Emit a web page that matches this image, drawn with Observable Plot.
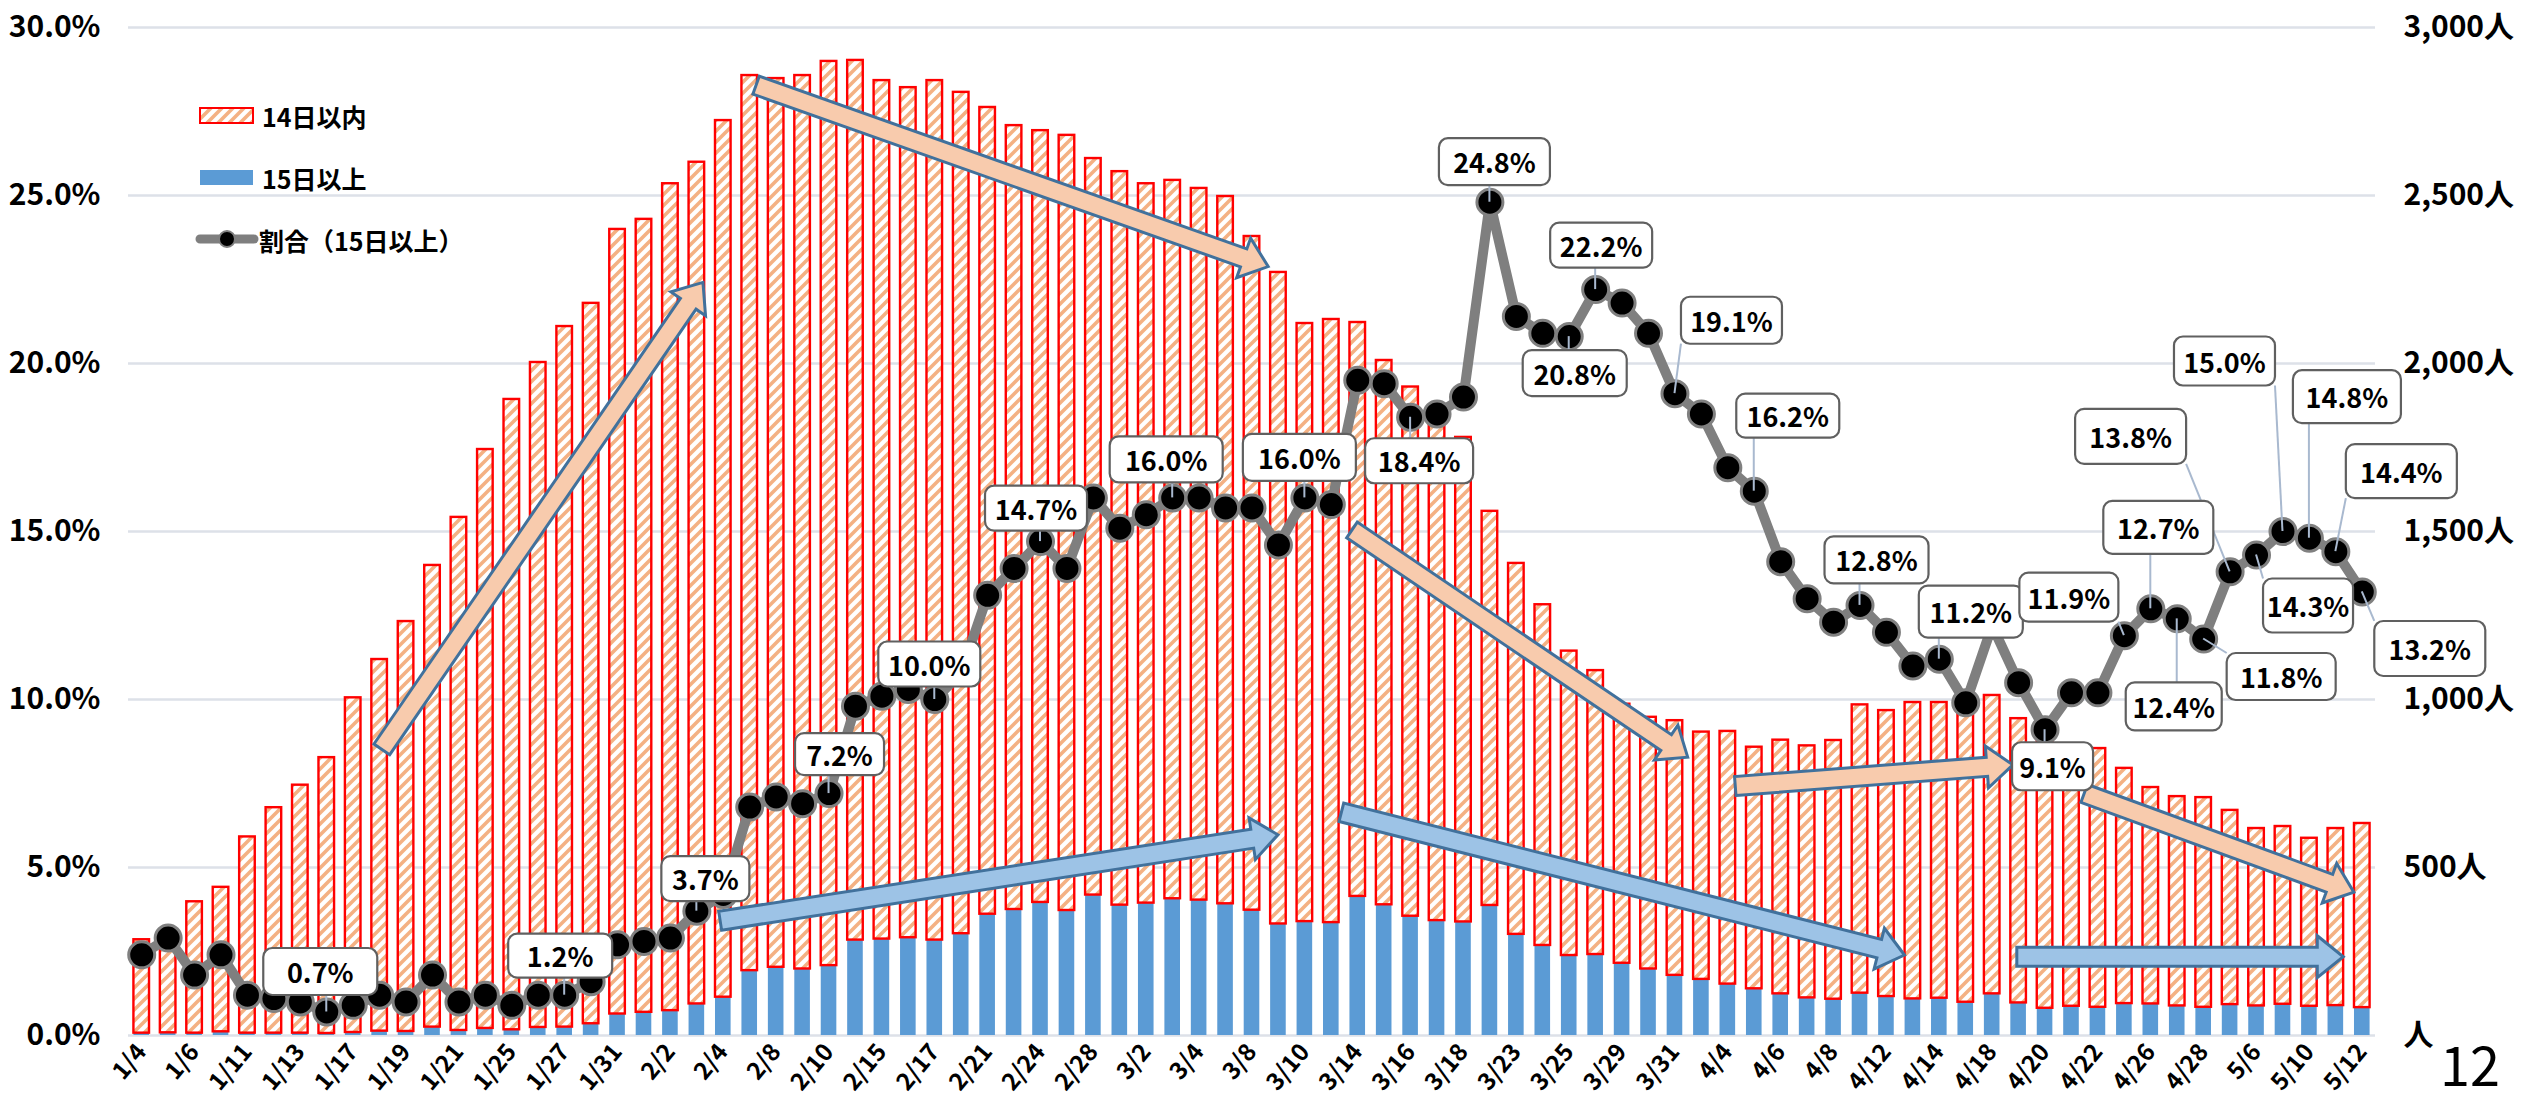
<!DOCTYPE html>
<html><head><meta charset="utf-8">
<script src="https://cdn.jsdelivr.net/npm/d3@7"></script>
<script src="https://cdn.jsdelivr.net/npm/@observablehq/plot@0.6"></script>
<style>
html,body{margin:0;padding:0;background:#fff;}
#chart{width:2532px;height:1100px;}
</style></head><body><div id="chart"></div>
<script>
// ---- data ----
const dates = ["1/4","1/5","1/6","1/8","1/11","1/12","1/13","1/15","1/17","1/18",
"1/19","1/20","1/21","1/22","1/25","1/26","1/27","1/29","1/31","2/1",
"2/2","2/3","2/4","2/5","2/8","2/9","2/10","2/12","2/15","2/16",
"2/17","2/19","2/21","2/22","2/24","2/26","2/28","3/1","3/2","3/3",
"3/4","3/5","3/8","3/9","3/10","3/12","3/14","3/15","3/16","3/17",
"3/18","3/19","3/23","3/24","3/25","3/26","3/29","3/30","3/31","4/2",
"4/4","4/5","4/6","4/7","4/8","4/9","4/12","4/13","4/14","4/16",
"4/18","4/19","4/20","4/21","4/22","4/23","4/26","4/27","4/28","4/30",
"5/6","5/7","5/10","5/11","5/12"];
const tickDates = ["1/4","1/6","1/11","1/13","1/17","1/19","1/21","1/25","1/27","1/31","2/2","2/4","2/8","2/10","2/15","2/17","2/21","2/24","2/28","3/2","3/4","3/8","3/10","3/14","3/16","3/18","3/23","3/25","3/29","3/31","4/4","4/6","4/8","4/12","4/14","4/18","4/20","4/22","4/26","4/28","5/6","5/10","5/12"];
const within14 = [278,282,391,430,584,671,738,821,996,1106,
1220,1374,1527,1723,1876,1979,2085,2144,2335,2360,
2461,2505,2609,2664,2645,2659,2691,2618,2555,2530,
2558,2504,2401,2333,2297,2307,2192,2183,2141,2138,
2118,2105,2005,1939,1780,1795,1708,1620,1575,1508,
1442,1173,1104,1014,906,845,771,749,758,736,
752,719,755,750,770,858,851,882,880,903,
888,846,809,762,770,700,644,623,624,578,
528,529,500,527,548];
const over15 = [7,8,7,11,7,7,7,6,9,13,
12,25,15,21,17,24,25,35,64,69,
74,94,114,193,203,198,208,284,287,291,
284,303,361,375,396,372,418,388,394,407,
403,392,373,332,339,336,414,389,355,342,
338,387,301,268,238,241,215,198,179,167,
153,139,124,112,108,126,116,109,111,99,
124,97,81,87,84,95,94,88,84,92,
88,93,87,89,83];
const ratio = [2.4,2.9,1.8,2.4,1.2,1.1,1.0,0.7,0.9,1.2,
1.0,1.8,1.0,1.2,0.9,1.2,1.2,1.6,2.7,2.8,
2.9,3.7,4.2,6.8,7.1,6.9,7.2,9.8,10.1,10.3,
10.0,10.8,13.1,13.9,14.7,13.9,16.0,15.1,15.5,16.0,
16.0,15.7,15.7,14.6,16.0,15.8,19.5,19.4,18.4,18.5,
19.0,24.8,21.4,20.9,20.8,22.2,21.8,20.9,19.1,18.5,
16.9,16.2,14.1,13.0,12.3,12.8,12.0,11.0,11.2,9.9,
12.2,10.5,9.1,10.2,10.2,11.9,12.7,12.4,11.8,13.8,
14.3,15.0,14.8,14.4,13.2];
const yTicks = [0,500,1000,1500,2000,2500,3000];
const seriesNames = ["14日以内","15日以上","割合（15日以上）"];
const pageNumber = "12";

// ---- layout (not data) ----
const labelBoxes = [
 {i:7,dx:-6,dy:-40,w:114,h:47},{i:16,dx:-4,dy:-39,w:104,h:44},{i:21,dx:9,dy:-32,w:88,h:45},
 {i:26,dx:11,dy:-39,w:89,h:42},{i:30,dx:-5,dy:-35,w:102,h:45},{i:34,dx:-4,dy:-33,w:102,h:45},
 {i:39,dx:-6,dy:-38,w:113,h:46},{i:44,dx:-5,dy:-40,w:113,h:47},{i:48,dx:9,dy:44,w:108,h:45},
 {i:51,dx:5,dy:-40,w:111,h:47},{i:54,dx:6,dy:37,w:104,h:46},{i:55,dx:6,dy:-44,w:102,h:45},
 {i:58,dx:57,dy:-73,w:101,h:47},{i:61,dx:34,dy:-75,w:103,h:44},{i:65,dx:17,dy:-45,w:104,h:47},
 {i:68,dx:32,dy:-47,w:104,h:52},{i:72,dx:8,dy:37,w:81,h:48},{i:75,dx:-55,dy:-38,w:99,h:49},
 {i:76,dx:8,dy:-81,w:110,h:53},{i:77,dx:-3,dy:88,w:96,h:48},{i:78,dx:78,dy:38,w:109,h:47},
 {i:79,dx:-99,dy:-135,w:111,h:55},{i:80,dx:52,dy:51,w:90,h:54},{i:81,dx:-58,dy:-170,w:101,h:49},
 {i:82,dx:38,dy:-141,w:108,h:53},{i:83,dx:66,dy:-80,w:111,h:54},{i:84,dx:68,dy:57,w:111,h:55}
];
const arrows = [
 {from:[9.1,850],to:[21.25,2240],kind:"peach"},
 {from:[23.26,2827],to:[42.63,2287],kind:"peach"},
 {from:[45.8,1503],to:[58.5,827],kind:"peach"},
 {from:[60.3,741],to:[70.8,804],kind:"peach"},
 {from:[73.5,719],to:[83.7,425],kind:"peach"},
 {from:[21.9,340],to:[43.0,596],kind:"blue"},
 {from:[45.4,663],to:[66.7,238],kind:"blue"},
 {from:[70.95,233],to:[83.3,233],kind:"blue"}
];

const data = dates.map((date,i)=>({date, over15: over15[i], within14: within14[i], total: over15[i]+within14[i], pct: ratio[i]*100}));
const FONT = "'Noto Sans CJK JP','Noto Sans',sans-serif";

function bandCenter(scales, fi){
  const i0 = Math.max(0, Math.min(dates.length-1, Math.floor(fi)));
  const f = fi - i0;
  return scales.x(dates[i0]) + scales.x.bandwidth()/2 + f*scales.x.step();
}

function defsMark(){
  const g = d3.create("svg:g");
  const p = g.append("defs").append("pattern").attr("id","hatch")
    .attr("patternUnits","userSpaceOnUse").attr("width",11).attr("height",11);
  p.append("rect").attr("width",11).attr("height",11).attr("fill","#fff");
  p.append("path").attr("d","M-3,3 L3,-3 M0,11 L11,0 M8,14 L14,8")
    .attr("stroke","#f4b183").attr("stroke-width",3.6);
  return g.node();
}

function arrowsMark(index, scales){
  const g = d3.create("svg:g");
  for (const a of arrows){
    const x0 = bandCenter(scales,a.from[0]), y0 = scales.y(a.from[1]);
    const x1 = bandCenter(scales,a.to[0]), y1 = scales.y(a.to[1]);
    const L = Math.hypot(x1-x0,y1-y0), ux=(x1-x0)/L, uy=(y1-y0)/L, nx=-uy, ny=ux;
    const sw=9.5, hw=21, hl=26;
    const bx=x1-ux*hl, by=y1-uy*hl;
    const pts=[[x0+nx*sw,y0+ny*sw],[bx+nx*sw,by+ny*sw],[bx+nx*hw,by+ny*hw],[x1,y1],
      [bx-nx*hw,by-ny*hw],[bx-nx*sw,by-ny*sw],[x0-nx*sw,y0-ny*sw]];
    g.append("polygon").attr("points",pts.map(p=>p.join(",")).join(" "))
      .attr("fill",a.kind==="peach"?"#f8cbad":"#9dc3e6")
      .attr("stroke","#41719c").attr("stroke-width",3).attr("stroke-linejoin","miter");
  }
  return g.node();
}

function labelsMark(index, scales){
  const g = d3.create("svg:g");
  const pos = labelBoxes.map(b=>{
    const px = bandCenter(scales,b.i), py = scales.y(ratio[b.i]*100);
    const cx = px+b.dx, cy = py+b.dy;
    return {b,px,py,cx,cy,x0:cx-b.w/2,y0:cy-b.h/2};
  });
  for (const p of pos){
    const qx = Math.max(p.x0, Math.min(p.px, p.x0+p.b.w));
    const qy = Math.max(p.y0, Math.min(p.py, p.y0+p.b.h));
    g.append("line").attr("x1",p.px).attr("y1",p.py).attr("x2",qx).attr("y2",qy)
      .attr("stroke","#a9b9cf").attr("stroke-width",2);
  }
  for (const p of pos){
    g.append("rect").attr("x",p.x0).attr("y",p.y0).attr("width",p.b.w).attr("height",p.b.h)
      .attr("rx",9).attr("fill","#fff").attr("stroke","#606060").attr("stroke-width",2.2);
    g.append("text").attr("x",p.cx).attr("y",p.cy).attr("text-anchor","middle")
      .attr("dominant-baseline","central").attr("font-size",27).attr("font-weight",700)
      .attr("font-family",FONT).attr("fill","#000").text(ratio[p.b.i].toFixed(1)+"%");
  }
  return g.node();
}

function legendMark(){
  const g = d3.create("svg:g").attr("font-family",FONT).attr("font-weight",700)
    .attr("font-size",25).attr("text-anchor","start").attr("fill","#000");
  g.append("rect").attr("x",200).attr("y",108).attr("width",53).attr("height",15)
    .attr("fill","url(#hatch)").attr("stroke","#ff0000").attr("stroke-width",2);
  g.append("text").attr("x",262).attr("y",116).attr("dominant-baseline","central").text(seriesNames[0]);
  g.append("rect").attr("x",200).attr("y",170).attr("width",53).attr("height",15).attr("fill","#5b9bd5");
  g.append("text").attr("x",262).attr("y",178).attr("dominant-baseline","central").text(seriesNames[1]);
  g.append("line").attr("x1",200).attr("x2",254).attr("y1",239).attr("y2",239)
    .attr("stroke","#7f7f7f").attr("stroke-width",9).attr("stroke-linecap","round");
  g.append("circle").attr("cx",227).attr("cy",239).attr("r",8).attr("fill","#000")
    .attr("stroke","#7f7f7f").attr("stroke-width",2);
  g.append("text").attr("x",259).attr("y",240).attr("dominant-baseline","central").text(seriesNames[2]);
  g.append("text").attr("x",2470).attr("y",1086).attr("text-anchor","middle")
    .attr("font-weight",400).attr("font-size",54).text(pageNumber);
  return g.node();
}

const chart = Plot.plot({
  width: 2532, height: 1100,
  marginLeft: 128, marginRight: 157, marginTop: 27, marginBottom: 65,
  style: {fontFamily: FONT, background: "#fff", color: "#000", overflow: "visible"},
  x: {type: "band", domain: dates, paddingInner: 0.41, paddingOuter: 0.205, label: null},
  y: {domain: [0, 3000], label: null},
  marks: [
    defsMark,
    Plot.ruleY(yTicks, {stroke: "#dde1e8", strokeWidth: 2.5}),
    Plot.barY(data, {x: "date", y1: 0, y2: "over15", fill: "#5b9bd5"}),
    Plot.barY(data, {x: "date", y1: "over15", y2: "total", fill: "url(#hatch)", stroke: "#ff0000", strokeWidth: 2.4}),
    arrowsMark,
    Plot.line(data, {x: "date", y: "pct", stroke: "#7f7f7f", strokeWidth: 10, strokeLinejoin: "round"}),
    Plot.dot(data, {x: "date", y: "pct", r: 13, fill: "#000", stroke: "#808080", strokeWidth: 3}),
    labelsMark,
    Plot.axisY(yTicks, {anchor: "left", tickSize: 0, tickPadding: 28, fontSize: 30, fontWeight: 700,
      tickFormat: d => (d/100).toFixed(1) + "%", label: null}),
    Plot.axisY(yTicks, {anchor: "right", tickSize: 0, tickPadding: 28, fontSize: 30, fontWeight: 700,
      tickFormat: d => d === 0 ? "人" : d3.format(",")(d) + "人", label: null}),
    Plot.axisX(tickDates, {tickSize: 0, tickPadding: 12, tickRotate: -50, fontSize: 24, fontWeight: 700, label: null}),
    legendMark
  ]
});
document.getElementById("chart").appendChild(chart);
</script>
</body></html>
